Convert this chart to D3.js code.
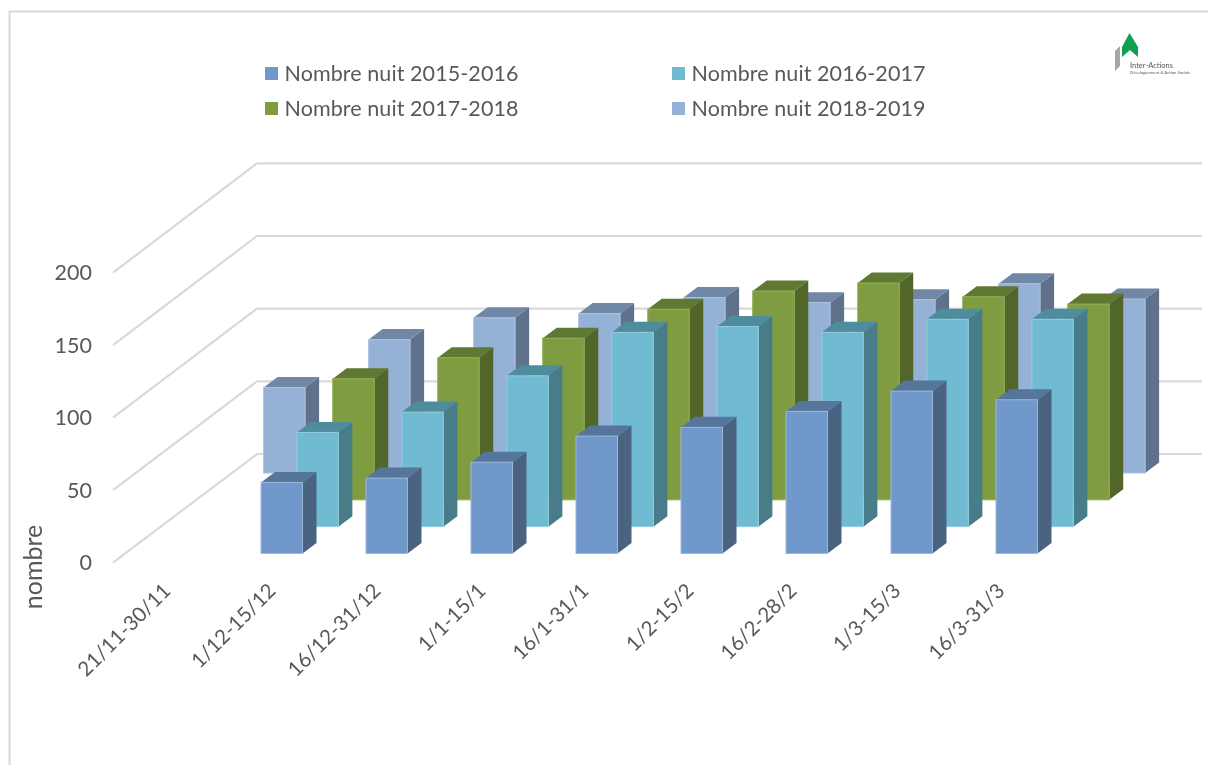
<!DOCTYPE html>
<html>
<head>
<meta charset="utf-8">
<script src="https://cdn.jsdelivr.net/npm/d3@7/dist/d3.min.js"></script>
<style>
html,body{margin:0;padding:0;background:#fff;overflow:hidden}
svg{display:block}
text{font-family:Lato,"Open Sans",sans-serif;fill:#595959}
</style>
</head>
<body>
<svg id="chart" width="1208" height="765"></svg>
<script>
const categories = ["21/11-30/11","1/12-15/12","16/12-31/12","1/1-15/1","16/1-31/1","1/2-15/2","16/2-28/2","1/3-15/3","16/3-31/3"];
const seriesNames = ["Nombre nuit 2015-2016","Nombre nuit 2016-2017","Nombre nuit 2017-2018","Nombre nuit 2018-2019"];
const nuit2015 = [null,49,52,63,81,87,98,112,106];
const nuit2016 = [null,65,79,104,134,138,134,143,143];
const nuit2017 = [null,83.5,98,111.5,131.5,144,149.5,140,135];
const nuit2018 = [59,92,107,110,121,117.5,119.5,130.5,120];
const yTicks = [0,50,100,150,200];
const seriesValues = [nuit2015,nuit2016,nuit2017,nuit2018];
const front = ["#7098CB","#6FBBD1","#7F9D40","#95B1D6"];
const topC = ["#55759B","#4F8C9D","#5F7830","#7187A6"];
const side = ["#486381","#477B88","#53662A","#5E718B"];
const edge = ["#9DB8DB","#94CDDE","#92AD58","#ABC3E2"];

const svg = d3.select("#chart");
const grey = "#D9D9D9";

svg.append("defs").append("filter").attr("id","soft")
  .attr("x","-5%").attr("y","-5%").attr("width","110%").attr("height","110%")
  .append("feGaussianBlur").attr("stdDeviation",0.45);

const root = svg.append("g").attr("filter","url(#soft)");

// outer frame
root.append("path").attr("d","M9.5,765V11.5H1208").attr("fill","none").attr("stroke",grey).attr("stroke-width",2);

// scales
const yScale = d3.scaleLinear().domain([0,200]).range([0,290]);
const backScale = d3.scaleLinear().domain([0,200]).range([0,290.7]);
const xScale = d3.scalePoint().domain(categories).range([156,996]);
const depthX = d3.scaleLinear().domain([0,3]).range([0,107.6]);
const depthY = d3.scaleLinear().domain([0,3]).range([553.5,473]);
const barW = 41.5, dX = 14, dY = 10.5;

// gridlines: side wall and back wall
const grid = root.append("g").attr("fill","none").attr("stroke",grey).attr("stroke-width",2.2);
yTicks.forEach(t=>{
  const h = yScale(t), hb = backScale(t);
  grid.append("path").attr("d",`M113,${562.7-h}L257,${454-hb}L1202,${454-hb}`);
});

// y axis labels
root.append("g").selectAll("text").data(yTicks).join("text")
  .attr("x",92).attr("y",d=>562.7-yScale(d)+7.5)
  .attr("text-anchor","end").attr("font-size",21.5).text(d=>d);

// axis title
root.append("text").attr("transform","translate(42,567) rotate(-90)")
  .attr("text-anchor","middle").attr("font-size",25).text("nombre");

// category labels
const labelEnd = [172,277,382,487,590,695,798,902,1006];
root.append("g").selectAll("text").data(categories).join("text")
  .attr("text-anchor","end").attr("font-size",20.5)
  .attr("transform",(d,i)=>`translate(${labelEnd[i]},592) rotate(-45)`)
  .text(d=>d);

// bars, back series first
const bars = root.append("g");
[3,2,1,0].forEach(s=>{
  const g = bars.append("g");
  const data = categories.map((c,i)=>({c,v:seriesValues[s][i]})).filter(d=>d.v!==null);
  const b = g.selectAll("g").data(data).join("g");
  const x0 = d=>xScale(d.c)+depthX(s);
  const y0 = depthY(s);
  const yt = d=>y0-yScale(d.v);
  b.append("path").attr("fill",side[s])
    .attr("d",d=>`M${x0(d)+barW},${y0}V${yt(d)}l${dX},${-dY}V${y0-dY}Z`);
  b.append("path").attr("fill",topC[s])
    .attr("d",d=>`M${x0(d)},${yt(d)}h${barW}l${dX},${-dY}h${-barW}Z`);
  b.append("rect").attr("fill",front[s]).attr("stroke",edge[s]).attr("stroke-width",1)
    .attr("x",d=>x0(d)).attr("y",yt).attr("width",barW).attr("height",d=>y0-yt(d));
});

// legend
const legendPos = [[265,73],[672,73],[265,108],[672,108]];
const leg = root.append("g").selectAll("g").data(seriesNames).join("g")
  .attr("transform",(d,i)=>`translate(${legendPos[i][0]},${legendPos[i][1]})`);
leg.append("rect").attr("x",0).attr("y",-6).attr("width",13).attr("height",13).attr("fill",(d,i)=>front[i]);
leg.append("text").attr("x",19.5).attr("y",7.5).attr("font-size",21.5)
  .attr("textLength",234).attr("lengthAdjust","spacing").text(d=>d);

// logo
const logo = root.append("g");
logo.append("path").attr("d","M1129.5,33L1138,47V57L1130,50L1122,57V47Z").attr("fill","#0FA14F");
logo.append("path").attr("d","M1115,51L1120,46V66L1115,71Z").attr("fill","#A6A6A6");
logo.append("text").attr("x",1130).attr("y",68).attr("font-size",7.5).attr("fill","#666").text("Inter-Actions");
logo.append("text").attr("x",1130).attr("y",74).attr("font-size",4.2).attr("fill","#888").text("Développement & Action Sociale");
</script>
</body>
</html>
